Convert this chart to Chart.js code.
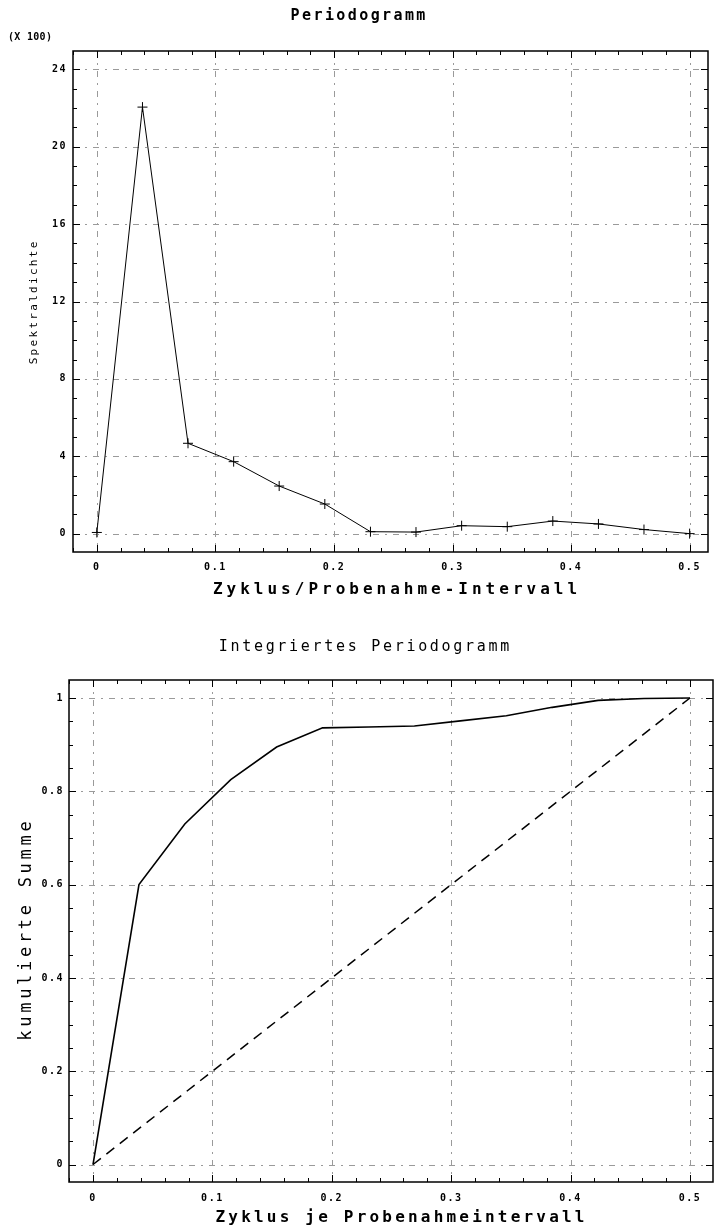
<!DOCTYPE html>
<html>
<head>
<meta charset="utf-8">
<script src="https://cdn.jsdelivr.net/npm/chart.js@4/dist/chart.umd.min.js"></script>
<style>
  html, body { margin: 0; padding: 0; background: #fff; }
  .box { position: absolute; left: 0; width: 714px; }
</style>
</head>
<body>
<div class="box" style="top:0;height:614px"><canvas id="periodogram" width="714" height="614"></canvas></div>
<div class="box" style="top:614px;height:615px"><canvas id="cumulative" width="714" height="615"></canvas></div>
<script>
// Frequenzen k/26, Zyklus je Probenahmeintervall
const frequencies = [0, 0.0385, 0.0769, 0.1154, 0.1538, 0.1923, 0.2308, 0.2692, 0.3077, 0.3462, 0.3846, 0.4231, 0.4615, 0.5];
// Spektraldichte (x 100)
const spectralDensity = [0.06, 22.05, 4.67, 3.72, 2.46, 1.53, 0.1, 0.08, 0.41, 0.36, 0.65, 0.5, 0.21, 0.0];
// kumulierte Summe
const cumulativeSum = [0, 0.6, 0.73, 0.825, 0.895, 0.936, 0.938, 0.94, 0.951, 0.962, 0.98, 0.995, 0.999, 1.0];
// Referenzgerade (weisses Rauschen)
const refX = [0, 0.5];
const refY = [0, 1];

const freqTicks = [0, 0.1, 0.2, 0.3, 0.4, 0.5];
const densityTicks = [0, 4, 8, 12, 16, 20, 24];
const sumTicks = [0, 0.2, 0.4, 0.6, 0.8, 1];

const MONO = '"DejaVu Sans Mono", "Liberation Mono", monospace';

function pts(xs, ys) {
  return xs.map((x, i) => ({ x: x, y: ys[i] }));
}

function fmtNum(v) {
  return v === 0 ? '0' : (Number.isInteger(v) ? String(v) : v.toFixed(1));
}

// gridlines, frame with inner ticks, titles
const plotter = {
  id: 'plotter',
  beforeDraw(chart) {
    chart.ctx.letterSpacing = '1.5px';
  },
  beforeDatasetsDraw(chart) {
    const { ctx, chartArea: a, scales: { x, y } } = chart;
    ctx.save();
    ctx.strokeStyle = '#9a9a9a';
    ctx.lineWidth = 1;
    ctx.setLineDash([6, 6, 2, 6]);
    x.ticks.forEach(t => {
      const px = Math.round(x.getPixelForValue(t.value)) + 0.5;
      ctx.beginPath(); ctx.moveTo(px, a.top); ctx.lineTo(px, a.bottom); ctx.stroke();
    });
    y.ticks.forEach(t => {
      const py = Math.round(y.getPixelForValue(t.value)) + 0.5;
      ctx.beginPath(); ctx.moveTo(a.left, py); ctx.lineTo(a.right, py); ctx.stroke();
    });
    ctx.restore();
  },
  afterDatasetsDraw(chart, args, opts) {
    const { ctx, chartArea: a, scales: { x, y } } = chart;
    ctx.save();
    ctx.setLineDash([]);
    ctx.strokeStyle = '#000';
    ctx.lineWidth = 1.5;
    ctx.strokeRect(a.left, a.top, a.right - a.left, a.bottom - a.top);
    ctx.lineWidth = 1;
    const major = (v, ticks) => ticks.some(t => Math.abs(t.value - v) < 1e-9);
    for (let k = Math.ceil(x.min / opts.xStep); k * opts.xStep <= x.max; k++) {
      const v = k * opts.xStep;
      const px = Math.round(x.getPixelForValue(v)) + 0.5;
      const len = major(v, x.ticks) ? 7 : 4;
      ctx.beginPath();
      ctx.moveTo(px, a.bottom); ctx.lineTo(px, a.bottom - len);
      ctx.moveTo(px, a.top); ctx.lineTo(px, a.top + len);
      ctx.stroke();
    }
    for (let k = Math.ceil(y.min / opts.yStep); k * opts.yStep <= y.max; k++) {
      const v = k * opts.yStep;
      const py = Math.round(y.getPixelForValue(v)) + 0.5;
      const len = major(v, y.ticks) ? 7 : 4;
      ctx.beginPath();
      ctx.moveTo(a.left, py); ctx.lineTo(a.left + len, py);
      ctx.moveTo(a.right, py); ctx.lineTo(a.right - len, py);
      ctx.stroke();
    }
    ctx.restore();
  },
  afterDraw(chart, args, opts) {
    const ctx = chart.ctx;
    opts.texts.forEach(t => {
      ctx.save();
      ctx.fillStyle = '#000';
      ctx.font = (t.bold ? 'bold ' : '') + t.size + 'px ' + MONO;
      ctx.letterSpacing = t.spacing + 'px';
      ctx.textBaseline = 'middle';
      ctx.textAlign = t.align || 'center';
      const shift = ctx.textAlign === 'center' ? t.spacing / 2 : 0;
      ctx.translate(t.x, t.y);
      if (t.rotate) ctx.rotate(-Math.PI / 2);
      ctx.fillText(t.text, shift, 0);
      ctx.restore();
    });
  }
};

function axisTicks(values) {
  return scale => { scale.ticks = values.map(v => ({ value: v })); };
}

const tickFont = { family: MONO, size: 10, weight: 'bold' };

function makeOptions(cfg) {
  return {
    responsive: false,
    animation: false,
    devicePixelRatio: 1,
    layout: { padding: cfg.padding },
    plugins: {
      legend: { display: false },
      tooltip: { enabled: false },
      plotter: cfg.plotter
    },
    scales: {
      x: {
        type: 'linear',
        min: cfg.xMin, max: cfg.xMax,
        afterBuildTicks: axisTicks(freqTicks),
        afterFit: s => { s.height = cfg.xHeight; },
        grid: { display: false, drawTicks: false },
        border: { display: false },
        ticks: { font: tickFont, color: '#000', padding: cfg.xPad, maxRotation: 0, autoSkip: false, callback: fmtNum }
      },
      y: {
        type: 'linear',
        min: cfg.yMin, max: cfg.yMax,
        afterBuildTicks: axisTicks(cfg.yTicks),
        afterFit: s => { s.width = cfg.yWidth; },
        grid: { display: false, drawTicks: false },
        border: { display: false },
        ticks: { font: tickFont, color: '#000', padding: cfg.yPad, callback: fmtNum }
      }
    }
  };
}

new Chart(document.getElementById('periodogram'), {
  type: 'line',
  data: {
    datasets: [{
      data: pts(frequencies, spectralDensity),
      borderColor: '#000',
      borderWidth: 1,
      pointStyle: 'cross',
      pointRadius: 5,
      pointBorderWidth: 1,
      pointBorderColor: '#000',
      tension: 0,
      fill: false
    }]
  },
  options: makeOptions({
    padding: { top: 51, left: 0, right: 2, bottom: 0 },
    xMin: -0.0201, xMax: 0.5155, xHeight: 62, xPad: 9,
    yMin: -0.95, yMax: 24.95, yWidth: 73, yPad: 6, yTicks: densityTicks,
    plotter: {
      xStep: 0.02, yStep: 1,
      texts: [
        { text: 'Periodogramm', x: 358, y: 16, size: 15, bold: true, spacing: 2.4 },
        { text: '(X 100)', x: 8, y: 37, size: 10, bold: true, spacing: 0.3, align: 'left' },
        { text: 'Spektraldichte', x: 34, y: 303, size: 11, spacing: 2.3, rotate: true },
        { text: 'Zyklus/Probenahme-Intervall', x: 395, y: 590, size: 16, bold: true, spacing: 4 }
      ]
    }
  }),
  plugins: [plotter]
});

new Chart(document.getElementById('cumulative'), {
  type: 'line',
  data: {
    datasets: [{
      data: pts(frequencies, cumulativeSum),
      borderColor: '#000',
      borderWidth: 1.6,
      pointRadius: 0,
      tension: 0,
      fill: false
    }, {
      data: pts(refX, refY),
      borderColor: '#000',
      borderWidth: 1.5,
      borderDash: [10, 7],
      pointRadius: 0,
      tension: 0,
      fill: false
    }]
  },
  options: makeOptions({
    padding: { top: 66, left: 0, right: 1, bottom: 0 },
    xMin: -0.0201, xMax: 0.5193, xHeight: 47, xPad: 10,
    yMin: -0.0375, yMax: 1.0386, yWidth: 69, yPad: 5, yTicks: sumTicks,
    plotter: {
      xStep: 0.02, yStep: 0.05,
      texts: [
        { text: 'Integriertes Periodogramm', x: 364, y: 33, size: 15, bold: false, spacing: 2.7 },
        { text: 'kumulierte Summe', x: 27, y: 317, size: 17, spacing: 3.7, rotate: true },
        { text: 'Zyklus je Probenahmeintervall', x: 400, y: 604, size: 16, bold: true, spacing: 3.2 }
      ]
    }
  }),
  plugins: [plotter]
});
</script>
</body>
</html>
